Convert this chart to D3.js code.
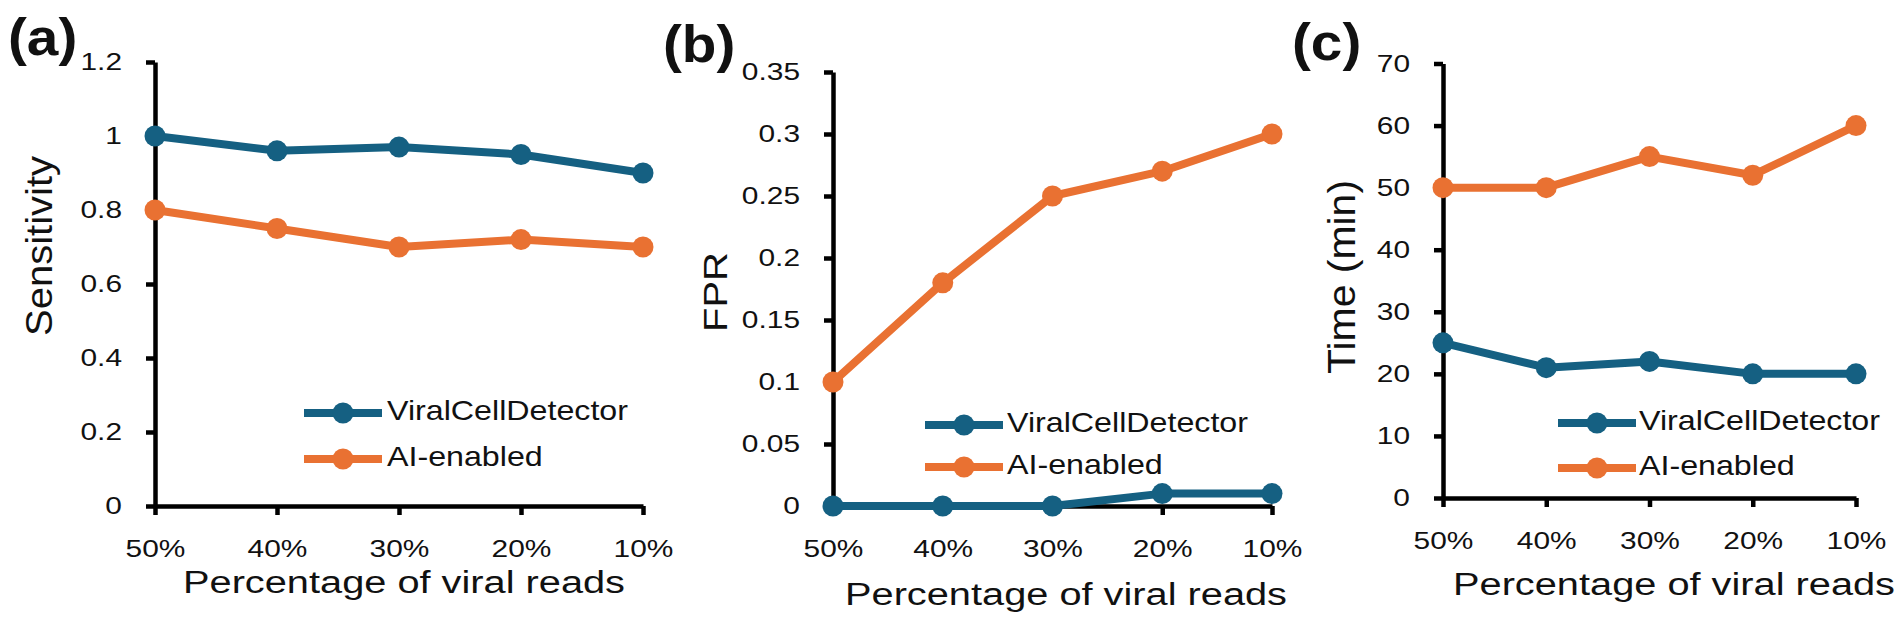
<!DOCTYPE html>
<html>
<head>
<meta charset="utf-8">
<script src="https://cdn.jsdelivr.net/npm/d3@7/dist/d3.min.js"></script>
<style>
  html, body { margin: 0; padding: 0; background: #fff; }
  svg { display: block; }
</style>
</head>
<body>
<svg id="chart" width="1902" height="621"></svg>
<script>
// ---------- data ----------
const categories = ["50%", "40%", "30%", "20%", "10%"];
const seriesNames = ["ViralCellDetector", "AI-enabled"];
const seriesColors = ["#156082", "#E97132"];

const sensitivityVCD = [1.00, 0.96, 0.97, 0.95, 0.90];
const sensitivityAI  = [0.80, 0.75, 0.70, 0.72, 0.70];
const fprVCD = [0.00, 0.00, 0.00, 0.01, 0.01];
const fprAI  = [0.10, 0.18, 0.25, 0.27, 0.30];
const timeVCD = [25, 21, 22, 20, 20];
const timeAI  = [50, 50, 55, 52, 60];

const sensitivityTicks = [0, 0.2, 0.4, 0.6, 0.8, 1.0, 1.2];
const fprTicks = [0, 0.05, 0.1, 0.15, 0.2, 0.25, 0.3, 0.35];
const timeTicks = [0, 10, 20, 30, 40, 50, 60, 70];

const panelLabels = ["(a)", "(b)", "(c)"];
const yTitles = ["Sensitivity", "FPR", "Time (min)"];
const xTitle = "Percentage of viral reads";

// ---------- layout ----------
const FONT = "'Liberation Sans', Arial, Helvetica, sans-serif";
const panels = [
  { label: panelLabels[0], labelX: 8, labelY: 55,
    x0: 155, x1: 643, yTop: 62, yBot: 506,
    domain: [0, 1.2], ticks: sensitivityTicks, series: [sensitivityVCD, sensitivityAI],
    yTitle: yTitles[0], ytX: 52, ytY: 246, ytSize: 36, ytLen: 180,
    xtX: 404, xtY: 593,
    legX: 304, legRows: [413, 459], legTextX: 387 },
  { label: panelLabels[1], labelX: 663, labelY: 62,
    x0: 833, x1: 1272, yTop: 72, yBot: 506,
    domain: [0, 0.35], ticks: fprTicks, series: [fprVCD, fprAI],
    yTitle: yTitles[1], ytX: 727, ytY: 292, ytSize: 33, ytLen: 80,
    xtX: 1066, xtY: 605,
    legX: 925, legRows: [425, 467], legTextX: 1007 },
  { label: panelLabels[2], labelX: 1292, labelY: 60,
    x0: 1443, x1: 1856, yTop: 63.5, yBot: 498,
    domain: [0, 70], ticks: timeTicks, series: [timeVCD, timeAI],
    yTitle: yTitles[2], ytX: 1355, ytY: 277, ytSize: 38, ytLen: 194,
    xtX: 1674, xtY: 595,
    legX: 1558, legRows: [423, 468], legTextX: 1639 }
];

const svg = d3.select("#chart");
svg.append("rect").attr("width", 1902).attr("height", 621).attr("fill", "#fff");

function stretch(sel, f) {
  sel.each(function () {
    const len = this.getComputedTextLength();
    d3.select(this).attr("textLength", len * f).attr("lengthAdjust", "spacingAndGlyphs");
  });
}
const fmt = d => String(+(+d).toFixed(2));

panels.forEach(p => {
  const g = svg.append("g");
  const x = d3.scalePoint().domain(categories).range([p.x0, p.x1]);
  const y = d3.scaleLinear().domain(p.domain).range([p.yBot, p.yTop]);

  // y axis
  const ya = g.append("g").attr("transform", `translate(${p.x0},0)`)
    .call(d3.axisLeft(y).tickValues(p.ticks).tickFormat(fmt).tickSizeInner(9).tickSizeOuter(0).tickPadding(24));
  // x axis
  const xa = g.append("g").attr("transform", `translate(0,${p.yBot})`)
    .call(d3.axisBottom(x).tickSizeInner(9).tickSizeOuter(0).tickPadding(25));

  [ya, xa].forEach(a => {
    a.selectAll(".domain").attr("stroke", "#000").attr("stroke-width", 4.5);
    a.selectAll(".tick line").attr("stroke", "#000").attr("stroke-width", 4.5);
    a.selectAll(".tick text").attr("font-family", FONT).attr("font-size", 24.5).attr("fill", "#111");
    stretch(a.selectAll(".tick text"), 1.22);
  });

  // lines & markers
  const line = d3.line().x((d, i) => x(categories[i])).y(d => y(d));
  p.series.forEach((vals, si) => {
    g.append("path").datum(vals)
      .attr("d", line).attr("fill", "none")
      .attr("stroke", seriesColors[si]).attr("stroke-width", 8)
      .attr("stroke-linejoin", "round");
    g.selectAll(null).data(vals).enter().append("circle")
      .attr("cx", (d, i) => x(categories[i])).attr("cy", d => y(d))
      .attr("r", 10.5).attr("fill", seriesColors[si]);
  });

  // legend
  seriesNames.forEach((name, si) => {
    const ry = p.legRows[si];
    g.append("line").attr("x1", p.legX).attr("x2", p.legX + 78)
      .attr("y1", ry).attr("y2", ry)
      .attr("stroke", seriesColors[si]).attr("stroke-width", 8);
    g.append("circle").attr("cx", p.legX + 39).attr("cy", ry).attr("r", 10.5).attr("fill", seriesColors[si]);
    const t = g.append("text").attr("x", p.legTextX).attr("y", ry + 7)
      .attr("font-family", FONT).attr("font-size", 28).attr("fill", "#111").text(name);
    stretch(t, 1.15);
  });

  // titles
  g.append("text").attr("x", p.xtX).attr("y", p.xtY).attr("text-anchor", "middle")
    .attr("font-family", FONT).attr("font-size", 31).attr("fill", "#111")
    .attr("textLength", 442).attr("lengthAdjust", "spacingAndGlyphs").text(xTitle);

  g.append("text").attr("transform", `translate(${p.ytX},${p.ytY}) rotate(-90)`)
    .attr("text-anchor", "middle")
    .attr("font-family", FONT).attr("font-size", p.ytSize).attr("fill", "#111")
    .attr("textLength", p.ytLen).attr("lengthAdjust", "spacingAndGlyphs").text(p.yTitle);

  const lab = g.append("text").attr("x", p.labelX).attr("y", p.labelY)
    .attr("font-family", FONT).attr("font-size", 52).attr("font-weight", "bold").attr("fill", "#111")
    .text(p.label);
  stretch(lab, 1.09);
});
</script>
</body>
</html>
